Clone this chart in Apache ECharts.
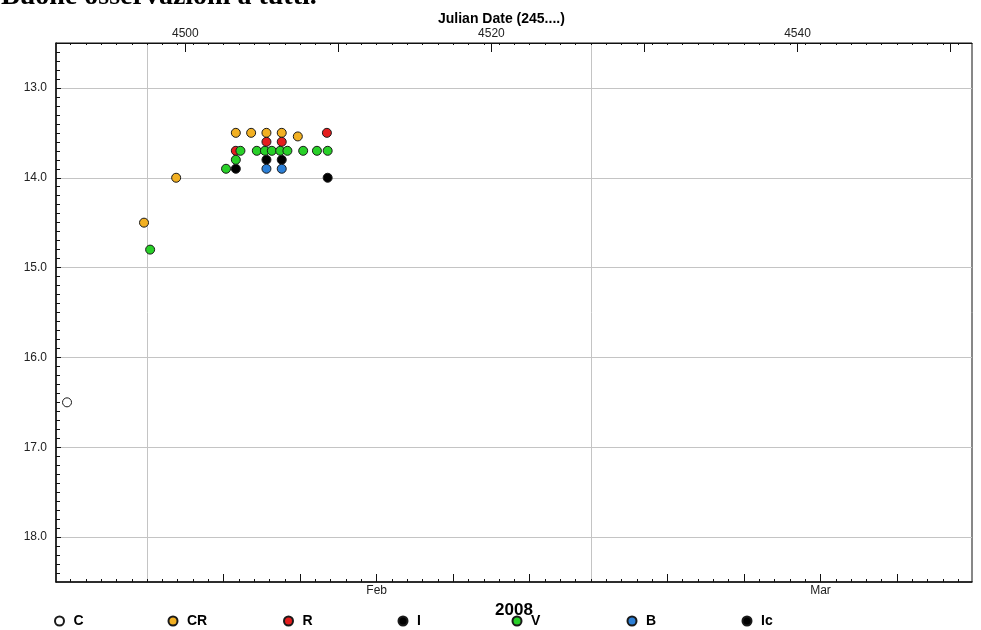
<!DOCTYPE html>
<html>
<head>
<meta charset="utf-8">
<script src="https://cdn.jsdelivr.net/npm/echarts@6/dist/echarts.min.js"></script>
<style>html,body{margin:0;padding:0;background:#fff}#c{width:981px;height:630px}</style>
</head>
<body>
<div id="c"></div>
<script>
// ---- data (Julian Date 245xxxx, magnitude) ----
const seriesNames = ['C', 'CR', 'R', 'I', 'V', 'B', 'Ic'];
const seriesColors = ['#ffffff', '#f2b022', '#e41e1e', '#000000', '#28d028', '#2c7fd6', '#000000'];
const dataC  = [[4492.27, 16.5]];
const dataCR = [[4497.3, 14.5], [4499.4, 14.0], [4503.3, 13.5], [4504.3, 13.5], [4505.3, 13.5], [4506.3, 13.5], [4507.35, 13.54]];
const dataR  = [[4509.25, 13.5], [4505.3, 13.6], [4506.3, 13.6], [4503.3, 13.7]];
const dataI  = [[4503.3, 13.9], [4505.3, 13.8], [4506.3, 13.8]];
const dataV  = [[4497.7, 14.8], [4502.66, 13.9], [4503.3, 13.8], [4503.6, 13.7], [4504.67, 13.7], [4505.2, 13.7], [4505.65, 13.7], [4506.2, 13.7], [4506.67, 13.7], [4507.7, 13.7], [4508.6, 13.7], [4509.3, 13.7]];
const dataB  = [[4505.3, 13.9], [4506.3, 13.9]];
const dataIc = [[4509.3, 14.0]];
const seriesData = [dataC, dataCR, dataR, dataI, dataV, dataB, dataIc];

// ---- axes / tick labels ----
const jdMin = 4491.55, jdMax = 4551.4;
const magMin = 12.5, magMax = 18.5;
const topLabelValues = [4500, 4520, 4540];
const topMajorTicks = [4500, 4510, 4520, 4530, 4540, 4550];
const monthLabelValues = [4512.5, 4541.5];
const monthLabels = ['Feb', 'Mar'];
const monthStarts = [4497.5, 4526.5];
const fiveDayTicks = [4502.5, 4507.5, 4512.5, 4517.5, 4522.5, 4531.5, 4536.5, 4541.5, 4546.5];
const magLabelValues = [13, 14, 15, 16, 17, 18];
const yearLabel = '2008';
const titleText = 'Julian Date (245....)';
const noteText = 'Buone osservazioni a tutti.';

const dailyTicks = [];
for (let d = 4492.5; d < jdMax; d += 1) dailyTicks.push(d);
const tenthTicks = [];
for (let k = 126; k <= 184; k++) tenthTicks.push(k / 10);

const FONT = '"Liberation Sans", Arial, sans-serif';
const lineStyle = {color: '#111', width: 1};

const legendCenters = [63, 176.5, 292, 406.5, 520.5, 635.5, 750.5];

const chart = echarts.init(document.getElementById('c'), null, {renderer: 'canvas'});
chart.setOption({
  animation: false,
  backgroundColor: '#fff',
  title: {
    text: titleText, left: 433, top: 7,
    textStyle: {fontFamily: FONT, fontSize: 14, fontWeight: 'bold', color: '#000'}
  },
  graphic: [{
    type: 'text', x: 1, y: 11,
    style: {text: noteText, font: 'bold 28px "Liberation Serif", "Times New Roman", serif', fill: '#000', verticalAlign: 'bottom'}
  }],
  grid: {left: 56, right: 9, top: 43, bottom: 48, show: true, borderColor: '#111', borderWidth: 1, backgroundColor: 'transparent'},
  legend: seriesNames.map((n, i) => ({
    data: [n], left: legendCenters[i] - 9, top: 614,
    itemWidth: 18, itemHeight: 9, itemGap: 0, padding: 0,
    selectedMode: false,
    textStyle: {fontFamily: FONT, fontSize: 14, fontWeight: 'bold', color: '#000'}
  })),
  xAxis: [
    { type: 'value', position: 'top', min: jdMin, max: jdMax,
      axisLine: {show: true, lineStyle: lineStyle},
      axisTick: {show: true, inside: true, length: 9, customValues: topMajorTicks, lineStyle: lineStyle},
      axisLabel: {show: true, customValues: topLabelValues, margin: 3, fontFamily: FONT, fontSize: 12, color: '#222',
        formatter: v => String(v)},
      splitLine: {show: false} },
    { type: 'value', position: 'top', min: jdMin, max: jdMax,
      axisLine: {show: false},
      axisTick: {show: true, inside: true, length: 2, customValues: dailyTicks, lineStyle: lineStyle},
      axisLabel: {show: false}, splitLine: {show: false} },
    { type: 'value', position: 'bottom', min: jdMin, max: jdMax,
      name: yearLabel, nameLocation: 'middle', nameGap: 16,
      nameTextStyle: {fontFamily: FONT, fontSize: 17, fontWeight: 'bold', color: '#000'},
      axisLine: {show: true, lineStyle: {color: '#111', width: 1.5}},
      axisTick: {show: true, inside: true, length: 8, customValues: fiveDayTicks, lineStyle: lineStyle},
      axisLabel: {show: true, customValues: monthLabelValues, margin: 3, fontFamily: FONT, fontSize: 12, color: '#222',
        formatter: v => monthLabels[monthLabelValues.indexOf(v)] || ''},
      splitLine: {show: false} },
    { type: 'value', position: 'bottom', min: jdMin, max: jdMax,
      axisLine: {show: false},
      axisTick: {show: true, inside: true, length: 3, customValues: dailyTicks, lineStyle: lineStyle},
      axisLabel: {show: false}, splitLine: {show: false} },
    { type: 'value', position: 'bottom', min: jdMin, max: jdMax,
      axisLine: {show: false},
      axisTick: {show: false, customValues: monthStarts},
      axisLabel: {show: false},
      splitLine: {show: true, lineStyle: {color: '#c4c4c4', width: 1}} }
  ],
  yAxis: [
    { type: 'value', inverse: true, min: magMin, max: magMax, position: 'left',
      axisLine: {show: true, lineStyle: {color: '#111', width: 1.5}},
      axisTick: {show: true, inside: true, length: 5, customValues: magLabelValues, lineStyle: lineStyle},
      axisLabel: {show: true, customValues: magLabelValues, margin: 9, fontFamily: FONT, fontSize: 12, color: '#222',
        formatter: v => v.toFixed(1)},
      splitLine: {show: true, lineStyle: {color: '#c4c4c4', width: 1}} },
    { type: 'value', inverse: true, min: magMin, max: magMax, position: 'left',
      axisLine: {show: false},
      axisTick: {show: true, inside: true, length: 4, customValues: tenthTicks, lineStyle: lineStyle},
      axisLabel: {show: false}, splitLine: {show: false} }
  ],
  series: seriesNames.map((n, i) => ({
    name: n, type: 'scatter', xAxisIndex: 0, yAxisIndex: 0,
    symbol: 'circle', symbolSize: 9,
    itemStyle: {color: seriesColors[i], borderColor: '#1a1a1a', borderWidth: 1, opacity: 1},
    emphasis: {disabled: true},
    data: seriesData[i]
  }))
});
</script>
</body>
</html>
